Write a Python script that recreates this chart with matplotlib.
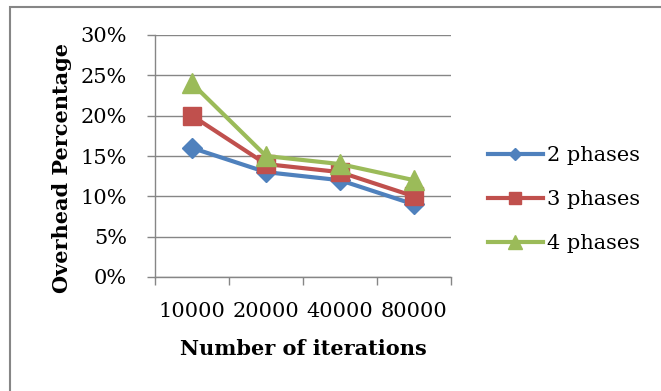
import matplotlib
matplotlib.use('Agg')
import matplotlib.pyplot as plt
from matplotlib.patches import Rectangle
from matplotlib.ticker import FixedLocator, FuncFormatter

# Data
iterations = ['10000', '20000', '40000', '80000']
two_phases = [16, 13, 12, 9]
three_phases = [20, 14, 13, 10]
four_phases = [24, 15, 14, 12]
y_ticks = [0, 5, 10, 15, 20, 25, 30]

plt.rcParams['font.family'] = ['DejaVu Serif']

W, H = 661, 391
fig = plt.figure(figsize=(W / 100, H / 100), dpi=100)
ax = fig.add_axes([155 / W, 1 - 277 / H, (451 - 155) / W, (277 - 35) / H])

grid_c = '#868686'
x = list(range(len(iterations)))

ax.plot(x, two_phases, color='#4F81BD', lw=3, marker='D', markersize=10, label='2 phases')
ax.plot(x, three_phases, color='#C0504D', lw=3, marker='s', markersize=13, label='3 phases')
ax.plot(x, four_phases, color='#9BBB59', lw=3, marker='^', markersize=15, label='4 phases')

ax.set_xlim(-0.5, len(iterations) - 0.5)
ax.set_ylim(0, 30)

# y axis: percent labels with outward ticks and gridlines
ax.set_yticks(y_ticks)
ax.yaxis.set_major_formatter(FuncFormatter(lambda v, p: f'{int(v)}%'))
ax.tick_params(axis='y', length=6, width=1, color=grid_c, pad=14, labelsize=15)
ax.grid(axis='y', color=grid_c, lw=1)
ax.set_axisbelow(True)

# x axis: ticks between categories, labels at centres
ax.xaxis.set_major_locator(FixedLocator([i - 0.5 for i in range(len(iterations) + 1)]))
ax.xaxis.set_major_formatter(FuncFormatter(lambda v, p: ''))
ax.xaxis.set_minor_locator(FixedLocator(x))
ax.set_xticklabels(iterations, minor=True)
ax.tick_params(axis='x', which='major', length=6, width=1, color=grid_c)
ax.tick_params(axis='x', which='minor', length=0, pad=18, labelsize=15)

for side in ['top', 'right']:
    ax.spines[side].set_visible(False)
for side in ['left', 'bottom']:
    ax.spines[side].set_color(grid_c)
    ax.spines[side].set_linewidth(1)

ax.set_ylabel('Overhead Percentage', fontsize=15, fontweight='bold')
ax.yaxis.set_label_coords(-0.28, 0.45)
ax.set_xlabel('Number of iterations', fontsize=15, fontweight='bold', labelpad=13)

leg = ax.legend(loc='center left', bbox_to_anchor=(1.063, 0.32), frameon=False,
                fontsize=15, handlelength=2.6, handletextpad=0.2, labelspacing=1.2,
                markerscale=0.65)

# outer chart frame
fig.patches.append(Rectangle((10 / W, -0.1), 1.1, 1 - 7 / H + 0.1, transform=fig.transFigure,
                             fill=False, edgecolor=grid_c, lw=1.5))

fig.savefig('out.png', dpi=100)
